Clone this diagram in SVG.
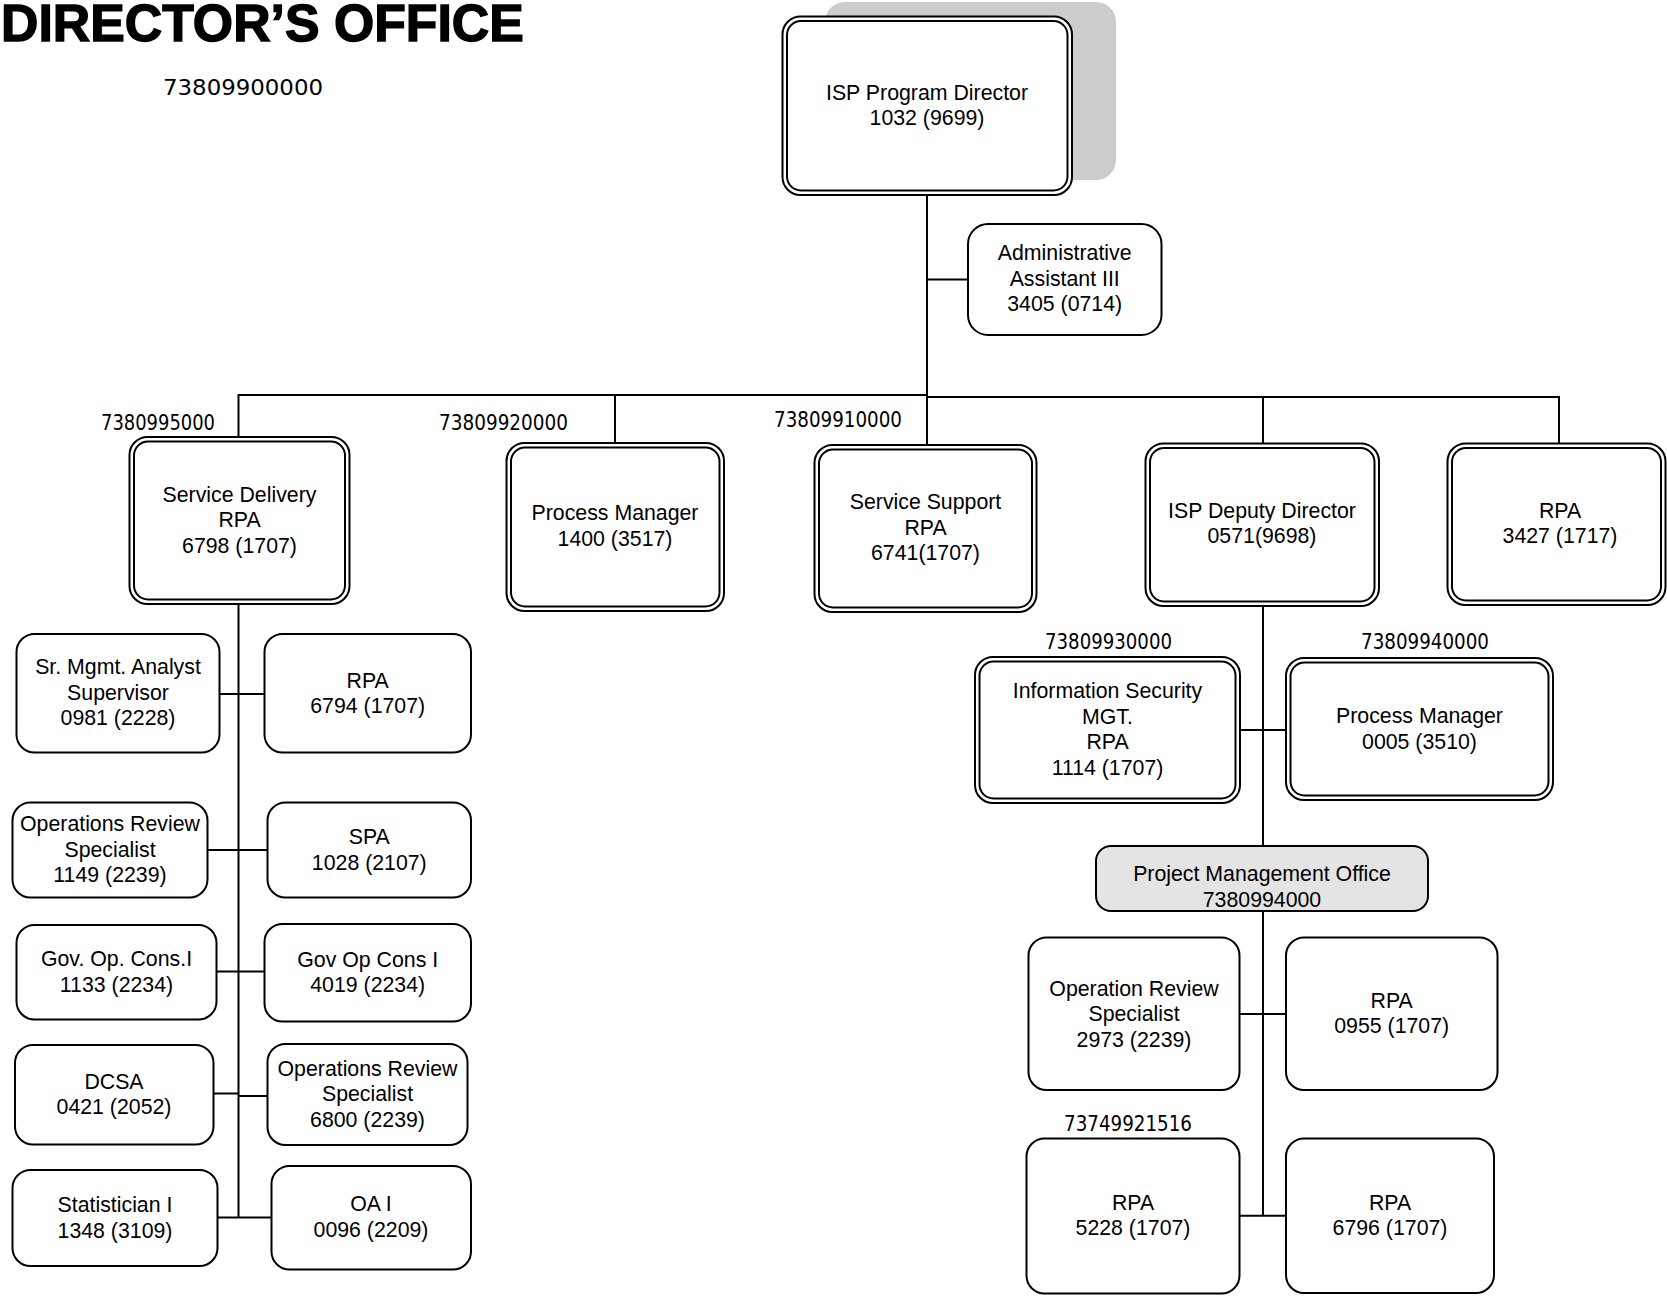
<svg xmlns="http://www.w3.org/2000/svg" width="1667" height="1296" viewBox="0 0 1667 1296">
  <style>
    .bg { fill: #ffffff; }
    .box { fill: #ffffff; stroke: #000000; stroke-width: 2; }
    .inner { fill: none; stroke: #000000; stroke-width: 2; }
    .pmo { fill: #e4e4e4; stroke: #000000; stroke-width: 2; }
    .shadow { fill: #cccccc; }
    .wire { fill: none; stroke: #000000; stroke-width: 2; }
    .t { font-family: "Liberation Sans", Arial, sans-serif; font-size: 21.3px; fill: #000000; text-anchor: middle; }
    .code { font-family: "DejaVu Sans", "Liberation Sans", sans-serif; font-size: 21.3px; fill: #000000; }
    .title { font-family: "Liberation Sans", Arial, sans-serif; font-size: 51.8px; font-weight: bold; fill: #000000; stroke: #000000; stroke-width: 1.4; }
  </style>

  <rect class="bg" x="0" y="0" width="1667" height="1296"/>

  <!-- heading and unit codes -->
  <g id="heading">
    <text class="title" x="1" y="41">DIRECTOR’S OFFICE</text>
    <text class="code" x="163" y="95" font-size="28" textLength="160" lengthAdjust="spacingAndGlyphs">73809900000</text>
  </g>
  <g id="unit-codes">
    <text class="code" x="101" y="430" textLength="114" lengthAdjust="spacingAndGlyphs">7380995000</text>
    <text class="code" x="439" y="430" textLength="129" lengthAdjust="spacingAndGlyphs">73809920000</text>
    <text class="code" x="774" y="427" textLength="128" lengthAdjust="spacingAndGlyphs">73809910000</text>
    <text class="code" x="1045" y="649" textLength="127" lengthAdjust="spacingAndGlyphs">73809930000</text>
    <text class="code" x="1361" y="649" textLength="128" lengthAdjust="spacingAndGlyphs">73809940000</text>
    <text class="code" x="1064" y="1131" textLength="128" lengthAdjust="spacingAndGlyphs">73749921516</text>
  </g>

  <!-- connectors -->
  <g id="connectors">
    <!-- director trunk and admin branch -->
    <path class="wire" d="M927 195 V445"/>
    <path class="wire" d="M927 279.5 H968"/>
    <!-- main bus -->
    <path class="wire" d="M238.5 395 H927"/>
    <path class="wire" d="M927 397 H1559"/>
    <path class="wire" d="M238.5 394 V437"/>
    <path class="wire" d="M615 394 V443"/>
    <path class="wire" d="M1263 396 V443.5"/>
    <path class="wire" d="M1559 396 V443.5"/>
    <!-- service delivery spine -->
    <path class="wire" d="M238.5 604 V1217.5"/>
    <path class="wire" d="M219.5 694 H264.5"/>
    <path class="wire" d="M207.5 850 H267.5"/>
    <path class="wire" d="M216.5 971.5 H264.5"/>
    <path class="wire" d="M213.5 1093.5 H238.5"/>
    <path class="wire" d="M238.5 1096 H267.5"/>
    <path class="wire" d="M217.5 1217.5 H271.5"/>
    <!-- deputy spine -->
    <path class="wire" d="M1263 606 V846"/>
    <path class="wire" d="M1240 730 H1286"/>
    <path class="wire" d="M1263 911 V1215.7"/>
    <path class="wire" d="M1239.5 1014 H1286"/>
    <path class="wire" d="M1239.5 1215.7 H1286"/>
  </g>

  <!-- top level -->
  <g id="isp-program-director">
    <rect class="shadow" x="825" y="2" width="291" height="178" rx="20"/>
    <rect class="box" x="782.5" y="16.5" width="289.5" height="178.5" rx="18"/>
    <rect class="inner" x="787" y="21" width="280.5" height="169.5" rx="14"/>
    <text class="t" x="927" y="99.5">ISP Program Director</text>
    <text class="t" x="927" y="125">1032 (9699)</text>
  </g>

  <g id="administrative-assistant">
    <rect class="box" x="968" y="224" width="193.5" height="111" rx="20"/>
    <text class="t" x="1064.7" y="260">Administrative</text>
    <text class="t" x="1064.7" y="285.5">Assistant III</text>
    <text class="t" x="1064.7" y="311">3405 (0714)</text>
  </g>

  <!-- second level -->
  <g id="service-delivery">
    <rect class="box" x="129.5" y="437" width="220" height="167" rx="18"/>
    <rect class="inner" x="134" y="441.5" width="211" height="158" rx="14"/>
    <text class="t" x="239.5" y="501.5">Service Delivery</text>
    <text class="t" x="239.5" y="527">RPA</text>
    <text class="t" x="239.5" y="552.5">6798 (1707)</text>
  </g>

  <g id="process-manager-1400">
    <rect class="box" x="506.5" y="443" width="217.5" height="168" rx="18"/>
    <rect class="inner" x="511" y="447.5" width="208.5" height="159" rx="14"/>
    <text class="t" x="615" y="520">Process Manager</text>
    <text class="t" x="615" y="545.5">1400 (3517)</text>
  </g>

  <g id="service-support">
    <rect class="box" x="814.5" y="445" width="222" height="167" rx="18"/>
    <rect class="inner" x="819" y="449.5" width="213" height="158" rx="14"/>
    <text class="t" x="925.5" y="509">Service Support</text>
    <text class="t" x="925.5" y="534.5">RPA</text>
    <text class="t" x="925.5" y="560">6741(1707)</text>
  </g>

  <g id="isp-deputy-director">
    <rect class="box" x="1145.5" y="443.5" width="233.5" height="162.5" rx="18"/>
    <rect class="inner" x="1150" y="448" width="224.5" height="153.5" rx="14"/>
    <text class="t" x="1262" y="517.5">ISP Deputy Director</text>
    <text class="t" x="1262" y="543">0571(9698)</text>
  </g>

  <g id="rpa-3427">
    <rect class="box" x="1447.5" y="443.5" width="218" height="161.5" rx="18"/>
    <rect class="inner" x="1452" y="448" width="209" height="152.5" rx="14"/>
    <text class="t" x="1560" y="517.5">RPA</text>
    <text class="t" x="1560" y="543">3427 (1717)</text>
  </g>

  <!-- service delivery staff -->
  <g id="sr-mgmt-analyst">
    <rect class="box" x="16.5" y="634" width="203" height="118.5" rx="18"/>
    <text class="t" x="118" y="674">Sr. Mgmt. Analyst</text>
    <text class="t" x="118" y="699.5">Supervisor</text>
    <text class="t" x="118" y="725">0981 (2228)</text>
  </g>

  <g id="rpa-6794">
    <rect class="box" x="264.5" y="634" width="206.5" height="118.5" rx="18"/>
    <text class="t" x="367.7" y="687.5">RPA</text>
    <text class="t" x="367.7" y="713">6794 (1707)</text>
  </g>

  <g id="ops-review-1149">
    <rect class="box" x="12.5" y="802.5" width="195" height="95" rx="18"/>
    <text class="t" x="110" y="831">Operations Review</text>
    <text class="t" x="110" y="856.5">Specialist</text>
    <text class="t" x="110" y="882">1149 (2239)</text>
  </g>

  <g id="spa-1028">
    <rect class="box" x="267.5" y="802.5" width="203.5" height="95" rx="18"/>
    <text class="t" x="369.3" y="844">SPA</text>
    <text class="t" x="369.3" y="869.5">1028 (2107)</text>
  </g>

  <g id="gov-op-cons-1133">
    <rect class="box" x="16.5" y="925" width="200" height="94.5" rx="18"/>
    <text class="t" x="116.5" y="966">Gov. Op. Cons.I</text>
    <text class="t" x="116.5" y="991.5">1133 (2234)</text>
  </g>

  <g id="gov-op-cons-4019">
    <rect class="box" x="264.5" y="924" width="206.5" height="97.5" rx="18"/>
    <text class="t" x="367.7" y="966.5">Gov Op Cons I</text>
    <text class="t" x="367.7" y="992">4019 (2234)</text>
  </g>

  <g id="dcsa-0421">
    <rect class="box" x="15" y="1045" width="198.5" height="99.5" rx="18"/>
    <text class="t" x="114" y="1088.6">DCSA</text>
    <text class="t" x="114" y="1114">0421 (2052)</text>
  </g>

  <g id="ops-review-6800">
    <rect class="box" x="267.5" y="1044" width="200" height="101" rx="18"/>
    <text class="t" x="367.5" y="1075.6">Operations Review</text>
    <text class="t" x="367.5" y="1101">Specialist</text>
    <text class="t" x="367.5" y="1126.5">6800 (2239)</text>
  </g>

  <g id="statistician-1348">
    <rect class="box" x="12.5" y="1170" width="205" height="96" rx="18"/>
    <text class="t" x="115" y="1212">Statistician I</text>
    <text class="t" x="115" y="1237.5">1348 (3109)</text>
  </g>

  <g id="oa-0096">
    <rect class="box" x="271.5" y="1166" width="199.5" height="103.5" rx="18"/>
    <text class="t" x="371" y="1211">OA I</text>
    <text class="t" x="371" y="1236.5">0096 (2209)</text>
  </g>

  <!-- deputy director branch -->
  <g id="information-security">
    <rect class="box" x="975" y="657" width="265" height="146" rx="18"/>
    <rect class="inner" x="979.5" y="661.5" width="256" height="137" rx="14"/>
    <text class="t" x="1107.5" y="698.4">Information Security</text>
    <text class="t" x="1107.5" y="723.9">MGT.</text>
    <text class="t" x="1107.5" y="749.4">RPA</text>
    <text class="t" x="1107.5" y="774.9">1114 (1707)</text>
  </g>

  <g id="process-manager-0005">
    <rect class="box" x="1286" y="658" width="267" height="142" rx="18"/>
    <rect class="inner" x="1290.5" y="662.5" width="258" height="133" rx="14"/>
    <text class="t" x="1419.5" y="723">Process Manager</text>
    <text class="t" x="1419.5" y="748.5">0005 (3510)</text>
  </g>

  <g id="project-management-office">
    <rect class="pmo" x="1096" y="846" width="332" height="65" rx="15"/>
    <text class="t" x="1262" y="881">Project Management Office</text>
    <text class="t" x="1262" y="906.5">7380994000</text>
  </g>

  <g id="ops-review-2973">
    <rect class="box" x="1028.5" y="937.5" width="211" height="152.5" rx="18"/>
    <text class="t" x="1134" y="995.8">Operation Review</text>
    <text class="t" x="1134" y="1021.3">Specialist</text>
    <text class="t" x="1134" y="1046.8">2973 (2239)</text>
  </g>

  <g id="rpa-0955">
    <rect class="box" x="1286" y="937.5" width="211.5" height="152.5" rx="18"/>
    <text class="t" x="1391.7" y="1007.6">RPA</text>
    <text class="t" x="1391.7" y="1033.1">0955 (1707)</text>
  </g>

  <g id="rpa-5228">
    <rect class="box" x="1026.5" y="1138.5" width="213" height="155" rx="18"/>
    <text class="t" x="1133" y="1209.9">RPA</text>
    <text class="t" x="1133" y="1235.4">5228 (1707)</text>
  </g>

  <g id="rpa-6796">
    <rect class="box" x="1286" y="1138.5" width="208" height="154.5" rx="18"/>
    <text class="t" x="1390" y="1209.9">RPA</text>
    <text class="t" x="1390" y="1235.4">6796 (1707)</text>
  </g>
</svg>
